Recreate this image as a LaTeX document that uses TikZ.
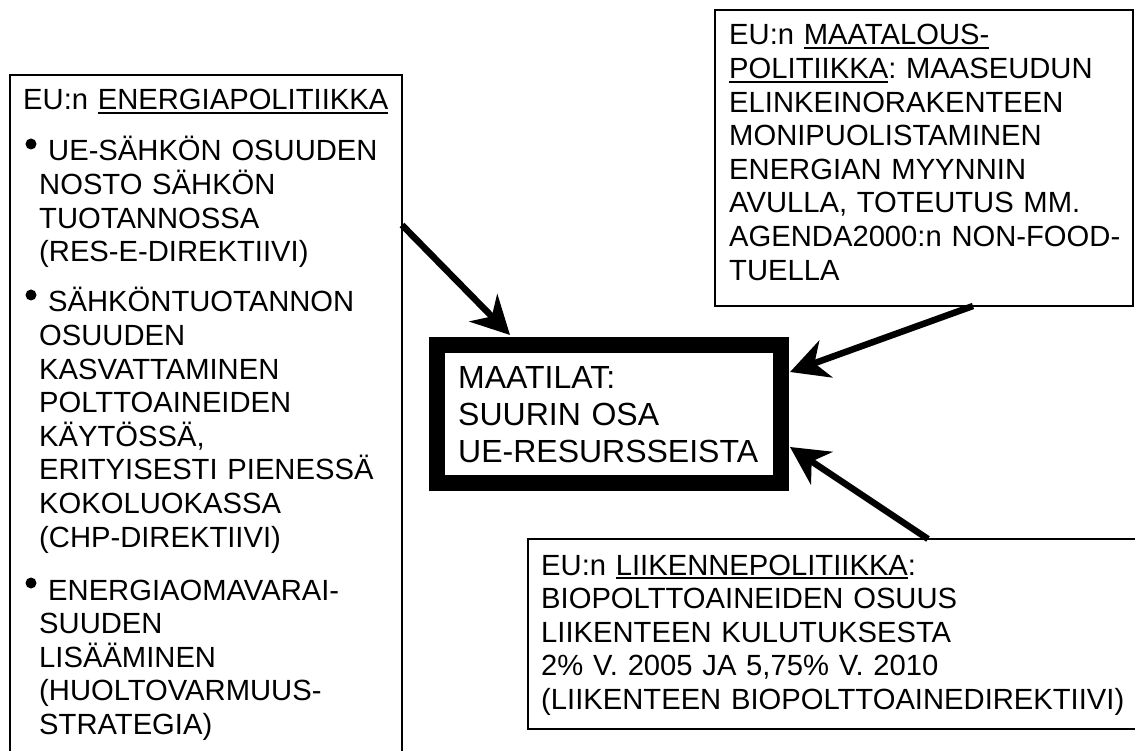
\documentclass[tikz,border=0pt]{standalone}
\usepackage{fontspec}
\setmainfont{Liberation Sans}
\usetikzlibrary{arrows.meta}
\frenchspacing
\newcommand\ulx[1]{\leavevmode\setbox0=\hbox{#1}\rlap{\rule[-4pt]{\wd0}{1.8pt}}\box0}
\tikzset{
  box/.style={draw=black, line width=1.5pt, inner sep=0pt, outer sep=0pt, anchor=north west},
  txt/.style={anchor=base west, inner sep=0pt, align=left, text width=#1,
              font=\fontsize{29.2}{33.6}\selectfont\frenchspacing},
  bigtxt/.style={anchor=base west, inner sep=0pt, align=left, text width=320pt,
              font=\fontsize{32}{37}\selectfont\frenchspacing},
  arr/.style={line width=6.5pt, -{Stealth[length=38pt,width=39pt,inset=12pt]}},
}
\begin{document}
\begin{tikzpicture}[x=1pt,y=-1pt]
\useasboundingbox (0,0) rectangle (1135,751);
\clip (0,0) rectangle (1135,751);
\fill[white] (0,0) rectangle (1135,751);

% boxes
\node[box, minimum width=392pt, minimum height=725pt] (energy) at (10,75) {};
\node[box, minimum width=418pt, minimum height=296pt] (agri) at (715,10) {};
\node[box, minimum width=622pt, minimum height=190pt] (traffic) at (528,539) {};
\node[draw=black, line width=16pt, inner sep=0pt, minimum width=344pt, minimum height=138pt] (farm) at (609,414) {};

% texts
\node[txt=380pt] (enhead) at (23,110) {EU:n \ulx{ENERGIAPOLITIIKKA}};
\node[txt=360pt] (enb1) at (39,161) {\hspace*{9pt}UE-SÄHKÖN OSUUDEN\\NOSTO SÄHKÖN\\TUOTANNOSSA\\(RES-E-DIREKTIIVI)};
\node[txt=360pt] (enb2) at (39,312) {\hspace*{9pt}SÄHKÖNTUOTANNON\\OSUUDEN\\KASVATTAMINEN\\POLTTOAINEIDEN\\KÄYTÖSSÄ,\\ERITYISESTI PIENESSÄ\\KOKOLUOKASSA\\(CHP-DIREKTIIVI)};
\node[txt=360pt] (enb3) at (39,600) {\hspace*{9pt}ENERGIAOMAVARAI-\\SUUDEN\\LISÄÄMINEN\\(HUOLTOVARMUUS-\\STRATEGIA)};
\fill (31,144) circle (5.5);
\fill (31,295) circle (5.5);
\fill (31,583) circle (5.5);

\node[txt=400pt] (agritxt) at (729,45) {EU:n \ulx{MAATALOUS-}\\\ulx{POLITIIKKA}: MAASEUDUN\\ELINKEINORAKENTEEN\\MONIPUOLISTAMINEN\\ENERGIAN MYYNNIN\\AVULLA, TOTEUTUS MM.\\AGENDA2000:n NON-FOOD-\\TUELLA};

\node[txt=620pt] (traftxt) at (541,575) {EU:n \ulx{LIIKENNEPOLITIIKKA}:\\BIOPOLTTOAINEIDEN OSUUS\\LIIKENTEEN KULUTUKSESTA\\2\% V. 2005 JA 5,75\% V. 2010\\(LIIKENTEEN BIOPOLTTOAINEDIREKTIIVI)};

\node[bigtxt] (farmtxt) at (458,388) {MAATILAT:\\SUURIN OSA\\UE-RESURSSEISTA};

% connectors
\coordinate (e1) at ([yshift=-150pt]energy.north east);
\draw[arr] (e1) -- ([shift={(81,-2)}]farm.north west);
\draw[arr] ([xshift=49pt]agri.south) -- ([shift={(1,-42)}]farm.east);
\draw[arr] ([xshift=89pt]traffic.north) -- ([shift={(1,33)}]farm.east);
\end{tikzpicture}
\end{document}
